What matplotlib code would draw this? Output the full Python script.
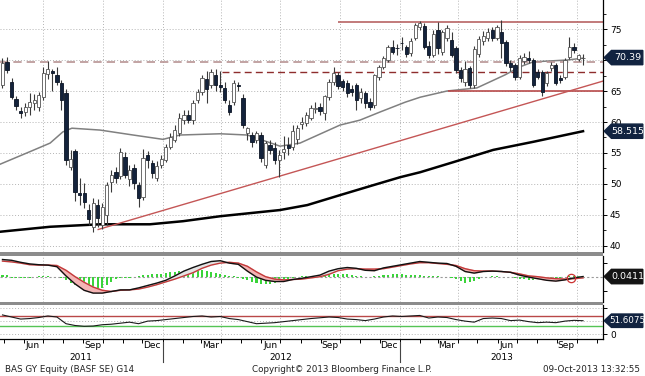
import numpy as np
import pandas as pd
import matplotlib
matplotlib.use('Agg')
import matplotlib.pyplot as plt
from matplotlib.patches import Rectangle, Polygon
from matplotlib.lines import Line2D
import matplotlib.transforms as mtransforms

plt.rcParams['font.family'] = 'DejaVu Sans'

# weekly bars, first one dated 29-Apr-2011
start = pd.Timestamp('2011-04-29')

opens = [66.0, 69.7, 66.5, 63.7, 61.8, 61.6, 62.4, 63.1, 62.4, 64.1,
         67.8, 68.2, 67.6, 66.3, 64.7, 52.8, 55.3, 48.5, 48.6, 45.8,
         43.1, 46.6, 43.4, 45.0, 50.4, 51.9, 51.3, 54.4, 50.8, 52.5,
         49.8, 47.9, 54.7, 53.4, 51.0, 53.0, 53.9, 56.0, 57.1, 58.2,
         60.3, 61.1, 60.3, 63.5, 64.8, 66.9, 66.0, 67.6, 66.0, 65.5,
         62.7, 63.2, 66.0, 63.9, 58.2, 57.9, 57.1, 57.9, 53.1, 56.3,
         55.8, 53.9, 55.2, 56.3, 56.0, 57.2, 59.6, 59.8, 60.7, 62.1,
         62.4, 61.5, 64.0, 66.5, 67.6, 66.6, 66.3, 65.4, 66.0, 63.9,
         64.7, 63.2, 62.7, 67.3, 68.9, 70.0, 72.1, 72.0, 72.8, 72.1,
         71.1, 73.5, 75.3, 75.5, 72.3, 70.8, 74.8, 71.3, 73.6, 73.2,
         71.9, 68.4, 66.5, 68.7, 65.9, 71.0, 73.1, 73.5, 74.8, 73.6,
         74.5, 72.9, 69.5, 69.2, 67.2, 69.9, 70.3, 70.0, 68.0, 68.1,
         66.3, 68.7, 69.2, 67.1, 67.3, 70.5, 72.1, 70.1, 70.3]
highs = [70.3, 70.5, 67.1, 64.2, 62.5, 63.0, 64.7, 64.5, 64.8, 68.8,
         69.9, 68.6, 68.8, 66.8, 65.4, 55.5, 55.6, 51.0, 50.2, 46.8,
         47.7, 47.5, 47.0, 50.3, 52.3, 52.7, 55.8, 55.1, 53.0, 53.2,
         50.3, 55.6, 55.3, 53.9, 53.7, 54.7, 56.5, 58.3, 59.5, 61.4,
         61.9, 62.0, 63.5, 65.4, 67.6, 68.3, 68.6, 68.5, 68.3, 66.5,
         63.6, 66.7, 66.5, 64.5, 59.2, 58.4, 58.6, 58.4, 57.0, 57.1,
         56.7, 55.5, 57.8, 57.5, 59.5, 59.5, 60.8, 61.6, 62.8, 63.2,
         63.0, 64.4, 67.0, 68.9, 68.0, 67.0, 66.8, 65.9, 66.3, 65.5,
         65.0, 63.8, 67.8, 69.2, 70.6, 72.5, 73.3, 72.6, 73.7, 72.5,
         73.5, 76.0, 76.3, 76.0, 73.0, 74.8, 76.2, 74.9, 75.6, 74.5,
         72.2, 68.9, 69.9, 69.0, 72.2, 73.8, 74.6, 75.2, 75.3, 75.7,
         76.4, 73.2, 70.0, 69.5, 70.8, 71.2, 71.5, 70.3, 68.5, 68.4,
         68.3, 69.6, 69.5, 67.6, 70.4, 73.7, 72.7, 71.0, 70.9]
lows = [65.5, 67.9, 63.7, 62.0, 60.6, 61.0, 61.1, 62.0, 61.8, 63.5,
        66.9, 65.0, 66.0, 62.0, 53.0, 52.3, 47.2, 46.6, 46.1, 43.4,
        42.3, 43.1, 42.8, 43.4, 48.7, 50.2, 50.8, 50.9, 49.7, 49.2,
        46.3, 47.4, 52.5, 51.0, 50.5, 52.6, 53.5, 55.6, 56.7, 57.7,
        59.7, 59.8, 59.7, 63.0, 64.3, 63.0, 65.5, 65.0, 64.8, 63.0,
        61.2, 62.7, 65.0, 59.0, 57.1, 56.0, 56.6, 53.5, 52.6, 54.8,
        53.3, 51.1, 54.0, 54.7, 55.5, 56.5, 58.9, 59.3, 60.3, 61.5,
        61.2, 60.3, 63.5, 66.0, 65.3, 65.0, 64.0, 64.2, 62.0, 63.0,
        62.3, 62.0, 62.2, 66.7, 68.5, 69.6, 70.9, 70.8, 71.6, 70.5,
        70.6, 73.2, 74.9, 71.8, 70.3, 70.5, 71.0, 70.8, 73.0, 70.5,
        67.9, 66.5, 65.8, 65.5, 65.5, 70.5, 72.5, 73.0, 73.0, 73.3,
        70.3, 69.0, 68.3, 66.8, 66.9, 69.4, 69.5, 65.6, 66.9, 64.2,
        65.8, 68.3, 66.0, 66.3, 66.9, 70.2, 71.2, 69.8, 69.2]
closes = [69.5, 68.4, 64.0, 62.6, 61.4, 62.4, 63.2, 63.5, 64.3, 67.9,
          68.6, 67.9, 66.5, 63.5, 53.9, 54.0, 48.7, 48.2, 47.1, 44.3,
          46.9, 44.5, 46.3, 49.8, 51.5, 51.0, 55.2, 51.5, 52.2, 50.2,
          47.8, 54.2, 53.9, 51.7, 52.9, 54.1, 56.0, 57.5, 58.7, 60.6,
          61.1, 60.3, 63.1, 64.8, 67.1, 65.4, 68.1, 66.0, 65.6, 63.5,
          61.6, 66.3, 65.8, 59.5, 59.0, 56.8, 58.2, 54.2, 56.6, 55.5,
          53.9, 54.7, 55.7, 55.8, 58.5, 59.0, 60.0, 61.1, 62.2, 62.3,
          61.8, 64.2, 66.5, 67.9, 65.8, 65.6, 64.7, 64.9, 63.6, 64.8,
          63.0, 62.5, 67.6, 68.9, 70.3, 72.1, 71.3, 71.9, 72.7, 71.0,
          73.0, 75.6, 75.9, 72.1, 70.8, 74.2, 71.9, 74.5, 75.2, 70.8,
          68.4, 67.1, 68.5, 65.9, 71.8, 73.4, 73.9, 74.5, 73.5, 75.3,
          72.8, 69.5, 68.9, 67.2, 70.3, 70.5, 70.0, 66.0, 67.3, 64.8,
          67.9, 69.2, 66.3, 66.8, 70.0, 72.1, 71.6, 70.8, 70.39]

# moving averages (week index, price)
ma_gray_k = [-0.5, 6, 10.5, 13.3, 15.3, 21.5, 28.8, 35.4, 39.1, 48, 54, 61.2, 65.6,
             74.4, 78.8, 83.2, 88.8, 92.1, 98, 104.6, 110.8, 114.1, 117, 124.5, 128]
ma_gray_v = [53.2, 55.2, 56.6, 58.4, 59.0, 58.7, 57.9, 57.2, 57.9, 58.1, 57.9, 56.1, 56.6,
             59.5, 60.3, 61.6, 63.2, 64.0, 65.0, 65.5, 67.6, 68.9, 69.7, 70.0, 70.3]
ma_black_k = [-0.5, 10.5, 21.5, 32.5, 39.8, 48, 61.2, 67.2, 74.4, 81.7, 87.7, 92.1,
              99.3, 108.2, 117, 128]
ma_black_v = [42.3, 43.1, 43.5, 43.5, 44.0, 44.8, 45.8, 46.6, 48.2, 49.8, 51.1, 51.9,
              53.5, 55.5, 56.8, 58.515]

# drawn levels and trend line
resist_hi, resist_hi_from = 76.2, 74
level_dash1 = 69.7
level_dash2, level_dash2_from = 68.1, 48.4
support, support_from = 65.0, 98.2
trend_k = [21.1, 132.4]
trend_v = [42.66, 66.6]

# MACD panel, every second week
macd_k = np.arange(0, 129, 2)
macd = [4.3, 4.1, 3.6, 3.2, 3.0, 2.9, 2.5, 0.2, -1.8, -3.4,
        -4.1, -4.1, -3.7, -3.3, -3.3, -2.8, -2.2, -1.6, -0.9, 0.2,
        1.4, 2.3, 3.1, 3.8, 4.0, 3.4, 3.1, 1.4, -0.1, -0.9,
        -1.2, -1.2, -0.7, -0.4, 0.0, 0.4, 1.4, 2.0, 2.3, 2.1,
        1.6, 1.5, 2.2, 2.6, 3.0, 3.4, 3.8, 3.6, 3.4, 3.3,
        2.6, 1.3, 0.9, 1.3, 1.4, 1.3, 1.1, 0.4, -0.1, -0.5,
        -0.9, -1.1, -0.8, -0.3, 0.04]
signal = [3.9, 3.7, 3.4, 3.0, 2.9, 2.9, 2.8, 1.6, 0.0, -1.4,
          -2.6, -3.4, -3.7, -3.4, -3.3, -3.1, -2.6, -2.0, -1.3, -0.6,
          0.2, 1.0, 2.1, 2.9, 3.4, 3.6, 3.4, 2.6, 1.2, 0.0,
          -0.6, -0.8, -0.7, -0.6, -0.3, 0.0, 0.6, 1.5, 1.9, 2.0,
          1.9, 1.9, 2.0, 2.4, 2.8, 3.2, 3.5, 3.5, 3.3, 3.1,
          2.8, 2.0, 1.5, 1.4, 1.4, 1.3, 1.1, 0.7, 0.2, 0.0,
          -0.3, -0.5, -0.6, -0.5, -0.3]
# histogram, one bar per week
hist = [0.5, 0.4, -0.2, -0.2, -0.2, -0.2, -0.2, -0.15, 0.1, 0.1,
        0.1, 0.0, -0.1, -0.4, -0.9, -1.5, -2.1, -2.7, -3.2, -3.6,
        -3.7, -3.4, -2.8, -2.0, -1.3, -0.6, -0.2, -0.2, -0.2, -0.1,
        0.2, 0.4, 0.5, 0.6, 0.7, 0.8, 0.9, 1.1, 1.3, 1.4,
        1.5, 1.6, 1.7, 1.7, 1.6, 1.5, 1.3, 1.0, 0.7, 0.4,
        0.2, 0.1, -0.2, -0.5, -0.9, -1.3, -1.6, -1.8, -1.9, -1.9,
        -1.7, -1.4, -1.0, -0.7, -0.4, -0.1, 0.1, 0.2, 0.3, 0.3,
        0.4, 0.5, 0.6, 0.7, 0.8, 0.7, 0.6, 0.4, 0.2, 0.1,
        -0.1, -0.1, 0.1, 0.3, 0.4, 0.5, 0.6, 0.6, 0.6, 0.5,
        0.5, 0.5, 0.4, 0.2, 0.1, 0.1, 0.1, 0.0, -0.1, -0.3,
        -0.7, -1.1, -1.5, -1.4, -1.0, -0.5, -0.1, 0.0, 0.1, 0.1,
        0.0, 0.0, -0.1, -0.3, -0.5, -0.7, -0.8, -0.8, -0.7, -0.6,
        -0.5, -0.4, -0.3, -0.2, -0.1, 0.1, 0.2, 0.3, 0.3]
cross_k, cross_v = 125.3, -0.4

# RSI, every second week
rsi = [74, 66, 58, 60, 64, 70, 66, 40, 33, 30,
       31, 36, 38, 42, 46, 40, 50, 52, 56, 60,
       64, 68, 70, 66, 68, 60, 56, 48, 40, 42,
       44, 48, 52, 56, 60, 63, 66, 64, 58, 56,
       52, 58, 66, 70, 68, 70, 72, 62, 66, 64,
       56, 50, 46, 60, 62, 60, 52, 54, 48, 44,
       46, 44, 50, 53, 51.6]

price_ticks = [40, 45, 50, 55, 60, 65, 70, 75]
price_labels = ['40', '45', '50', '55', '60', '65', '', '75']  # 70 sits under the last-price tag
quarters = ['2011-07-01', '2011-10-01', '2012-01-01', '2012-04-01', '2012-07-01',
            '2012-10-01', '2013-01-01', '2013-04-01', '2013-07-01', '2013-10-01']
month_labels = [('Jun', '2011-06-15'), ('Sep', '2011-09-15'), ('Dec', '2011-12-15'),
                ('Mar', '2012-03-15'), ('Jun', '2012-06-15'), ('Sep', '2012-09-15'),
                ('Dec', '2012-12-15'), ('Mar', '2013-03-15'), ('Jun', '2013-06-15'),
                ('Sep', '2013-09-15')]


def kpos(d):
    return (pd.Timestamp(d) - start).days / 7.0


W, H = 645, 376
XMIN, XMAX = -0.55, 132.4


def box(x0, y0, x1, y1):
    return [x0 / W, 1 - y1 / H, (x1 - x0) / W, (y1 - y0) / H]


fig = plt.figure(figsize=(W / 100, H / 100), dpi=100)
ax = fig.add_axes(box(0, 0, 603, 252))
axm = fig.add_axes(box(0, 256, 603, 302))
axr = fig.add_axes(box(0, 305, 603, 339))

# grey separators between the panels
fig.patches.append(Rectangle((0, 1 - 256 / H), 603 / W, 4 / H, transform=fig.transFigure,
                             facecolor='#8c8c8c', edgecolor='none'))
fig.patches.append(Rectangle((0, 1 - 305 / H), 603 / W, 3 / H, transform=fig.transFigure,
                             facecolor='#8c8c8c', edgecolor='none'))

grid_kw = dict(color='#b4b4b4', lw=0.7, linestyle=(0, (1, 2)), zorder=0)
qk = [kpos(q) for q in quarters]
for a in (ax, axm, axr):
    a.set_xlim(XMIN, XMAX)
    for s in ('left', 'top', 'bottom'):
        a.spines[s].set_visible(False)
    a.spines['right'].set_linewidth(0.9)
    a.yaxis.tick_right()
    a.tick_params(axis='y', labelsize=6.5, length=3, width=0.7, pad=2, colors='black')
    a.tick_params(axis='x', length=0, labelbottom=False)
    for q in qk:
        a.axvline(q, **grid_kw)

# ---- price panel ----
k = np.arange(len(closes))
o = np.array(opens)
c = np.array(closes)
h = np.array(highs)
l = np.array(lows)
up = c >= o
body = np.maximum(np.abs(c - o), 0.09)
bot = np.minimum(o, c)
ax.vlines(k, l, h, color='#3a3a3a', lw=0.8, zorder=3)
ax.bar(k[up], body[up], bottom=bot[up], width=0.72, color='white',
       edgecolor='#555555', lw=0.6, zorder=4)
ax.bar(k[~up], body[~up], bottom=bot[~up], width=0.72, color='#14233c',
       edgecolor='#0b1424', lw=0.6, zorder=4)

ax.plot(ma_gray_k, ma_gray_v, color='#808080', lw=1.1, zorder=2)
ax.plot(ma_black_k, ma_black_v, color='black', lw=1.8, zorder=2)

ax.hlines(resist_hi, resist_hi_from, XMAX, color='#b86464', lw=1.2, zorder=2)
ax.hlines(support, support_from, XMAX, color='#b84a4a', lw=1.2, zorder=2)
ax.hlines(level_dash1, XMIN, XMAX, color='#b89494', lw=1.2, linestyle=(0, (5, 3)), zorder=2)
ax.hlines(level_dash2, level_dash2_from, XMAX, color='#8e2d2d', lw=1.0,
          linestyle=(0, (5, 3)), zorder=2)
ax.plot(trend_k, trend_v, color='#c45656', lw=1.0, zorder=2)

ax.set_ylim(39.03, 79.68)
ax.set_yticks(price_ticks)
ax.set_yticklabels(price_labels)
ax.set_yticks(np.arange(42.5, 79, 5), minor=True)
ax.tick_params(axis='y', which='minor', length=2, width=0.6)
for p in price_ticks:
    ax.axhline(p, **grid_kw)


def value_tag(a, y, half, text, color, size=6.8):
    tr = mtransforms.blended_transform_factory(a.transAxes, a.transData)
    pts = [(1.002, y), (1.014, y + half), (1.066, y + half), (1.066, y - half), (1.014, y - half)]
    a.add_patch(Polygon(pts, closed=True, transform=tr, clip_on=False,
                        facecolor=color, edgecolor=color, zorder=10))
    a.text(1.041, y, text, transform=tr, ha='center', va='center', color='white',
           fontsize=size, zorder=11, clip_on=False)


value_tag(ax, closes[-1], 1.15, '70.39', '#112340')
value_tag(ax, ma_black_v[-1], 1.15, '58.515', '#112340')

# ---- MACD panel ----
mk = np.array(macd_k)
mv = np.array(macd)
sv = np.array(signal)
axm.axhline(0, color='#9a9a9a', lw=0.8, linestyle=(0, (2, 2)), zorder=1)
axm.bar(k, hist, width=0.45, color='#3ad43a', zorder=2)
axm.fill_between(mk, mv, sv, where=mv < sv, interpolate=True, color='#f4b4b4', zorder=3)
axm.fill_between(mk, mv, sv, where=mv >= sv, interpolate=True, color='#e4e4e4', zorder=3)
axm.plot(mk, sv, color='#c33a3a', lw=1.0, zorder=4)
axm.plot(mk, mv, color='#111111', lw=1.0, zorder=5)
axm.plot([cross_k], [cross_v], marker='o', ms=6, mfc='none', mec='#cc3333', mew=0.9, zorder=6)
axm.set_ylim(-6.33, 5.18)
axm.set_yticks([-3.5, 3.5])
axm.set_yticklabels([])
value_tag(axm, 0.0411, 1.8, '0.0411', '#141414')

# ---- RSI panel ----
axr.plot(macd_k, rsi, color='#1a1a1a', lw=0.8, zorder=4)
axr.axhline(70, color='#b94848', lw=1.0, zorder=3)
axr.axhline(30, color='#55c455', lw=1.0, zorder=3)
for v in (0, 50, 100):
    axr.axhline(v, **grid_kw)
axr.set_ylim(-19.4, 112.6)
axr.set_yticks([0, 100])
axr.set_yticklabels(['0', ''])
value_tag(axr, 51.6, 26, '51.6075', '#112340', size=6.3)

axr.spines['bottom'].set_visible(True)
axr.spines['bottom'].set_linewidth(0.9)
month_starts = pd.date_range('2011-05-01', '2013-11-01', freq='MS')
axr.set_xticks([kpos(m) for m in month_starts])
axr.tick_params(axis='x', length=3, width=0.7, direction='out', labelbottom=False)

trx = mtransforms.blended_transform_factory(axr.transData, fig.transFigure)
for name, d in month_labels:
    fig.text(kpos(d), 1 - 345 / H, name, transform=trx, ha='center', va='center', fontsize=6.5)
j12, j13 = kpos('2012-01-01'), kpos('2013-01-01')
for yr, xm in (('2011', (XMIN + j12) / 2), ('2012', (j12 + j13) / 2), ('2013', (j13 + XMAX) / 2)):
    fig.text(xm, 1 - 357 / H, yr, transform=trx, ha='center', va='center', fontsize=6.5)
for j in (j12, j13):
    fig.lines.append(Line2D([j, j], [1 - 342 / H, 1 - 362 / H], transform=trx,
                            color='#444444', lw=0.8))

fig.text(5 / W, 1 - 370 / H, 'BAS GY Equity (BASF SE) G14', fontsize=6.3, va='center', color='#222222')
fig.text(252 / W, 1 - 370 / H, 'Copyright\u00a9 2013 Bloomberg Finance L.P.', fontsize=6.3,
         va='center', color='#222222')
fig.text(640 / W, 1 - 370 / H, '09-Oct-2013 13:32:55', fontsize=6.3, va='center', ha='right',
         color='#222222')

fig.savefig('out.png', dpi=100)
